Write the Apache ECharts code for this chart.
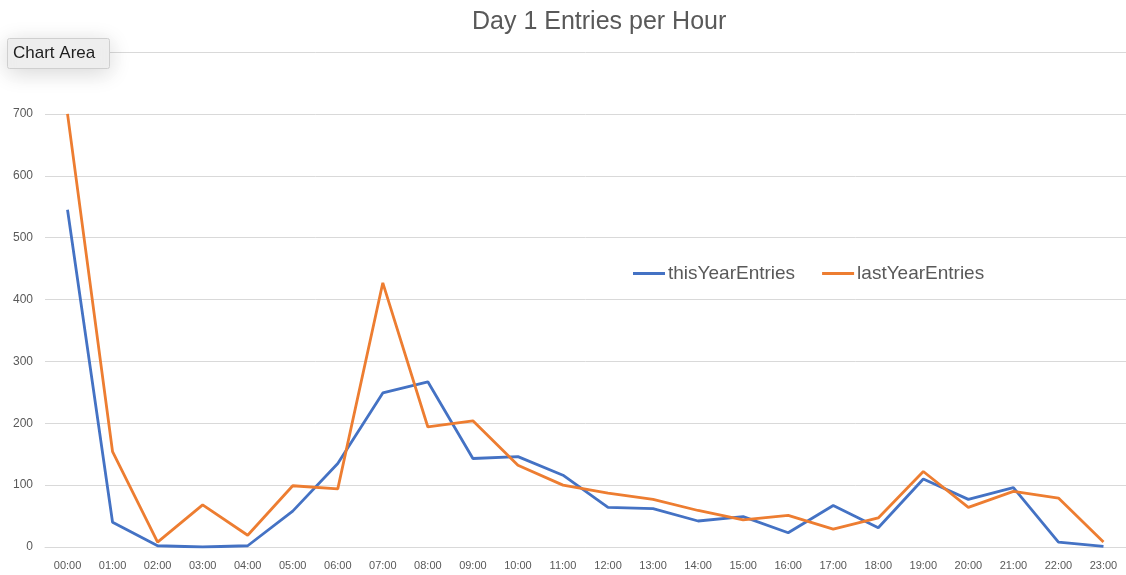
<!DOCTYPE html>
<html>
<head>
<meta charset="utf-8">
<script src="https://cdn.jsdelivr.net/npm/echarts@6/dist/echarts.min.js"></script>
<style>
html,body{margin:0;padding:0;background:#fff;}
#chart{width:1126px;height:575px;}
</style>
</head>
<body>
<div id="chart"></div>
<script>
const hours = ['00:00','01:00','02:00','03:00','04:00','05:00','06:00','07:00','08:00','09:00','10:00','11:00','12:00','13:00','14:00','15:00','16:00','17:00','18:00','19:00','20:00','21:00','22:00','23:00'];
const thisYearEntries = [545, 40, 2, 0, 2, 58, 135, 249, 267, 143, 146, 116, 64, 62, 42, 49, 23, 67, 31, 110, 77, 96, 8, 1];
const lastYearEntries = [700, 154, 8, 68, 19, 99, 94, 427, 194, 204, 132, 100, 87, 77, 59, 44, 51, 29, 47, 122, 64, 90, 79, 8];
const yTicks = {min: 0, max: 800, interval: 100};

const font = '"Liberation Sans", "DejaVu Sans", sans-serif';
const chart = echarts.init(document.getElementById('chart'));
chart.setOption({
  animation: false,
  backgroundColor: '#ffffff',
  title: {
    text: 'Day 1 Entries per Hour',
    left: 467,
    top: 5,
    textStyle: {fontFamily: font, fontSize: 25, fontWeight: 'normal', color: '#595959'}
  },
  legend: {
    left: 628,
    top: 259,
    itemWidth: 32,
    itemHeight: 3,
    itemGap: 27,
    icon: 'rect',
    textStyle: {fontFamily: font, fontSize: 19, color: '#595959', padding: [0,0,0,-2]},
    data: ['thisYearEntries', 'lastYearEntries']
  },
  grid: {left: 45, top: 52, width: 1083, height: 495},
  xAxis: {
    type: 'category',
    data: hours,
    boundaryGap: true,
    axisLine: {lineStyle: {color: '#d9d9d9', width: 1}},
    axisTick: {show: false},
    axisLabel: {fontFamily: font, fontSize: 11, color: '#595959', margin: 13, interval: 0}
  },
  yAxis: {
    type: 'value',
    min: yTicks.min,
    max: yTicks.max,
    interval: yTicks.interval,
    axisLine: {show: false},
    axisTick: {show: false},
    axisLabel: {fontFamily: font, fontSize: 12, color: '#595959', margin: 12},
    splitLine: {lineStyle: {color: '#d9d9d9', width: 1}}
  },
  series: [
    {name: 'thisYearEntries', type: 'line', data: thisYearEntries, showSymbol: false,
     itemStyle: {color: '#4472C4'}, lineStyle: {color: '#4472C4', width: 2.8}},
    {name: 'lastYearEntries', type: 'line', data: lastYearEntries, showSymbol: false,
     itemStyle: {color: '#ED7D31'}, lineStyle: {color: '#ED7D31', width: 2.8}}
  ],
  graphic: [
    {type: 'rect', left: 7, top: 38, z: 100,
     shape: {width: 102, height: 30, r: 2},
     style: {fill: '#efefef', stroke: '#cfcfcf', lineWidth: 1,
             shadowBlur: 22, shadowColor: 'rgba(0,0,0,0.16)', shadowOffsetY: 4}},
    {type: 'text', left: 13, top: 45, z: 101,
     style: {text: 'Chart Area', fontFamily: font, fontSize: 17, fill: '#1e1e1e'}}
  ]
});
</script>
</body>
</html>
